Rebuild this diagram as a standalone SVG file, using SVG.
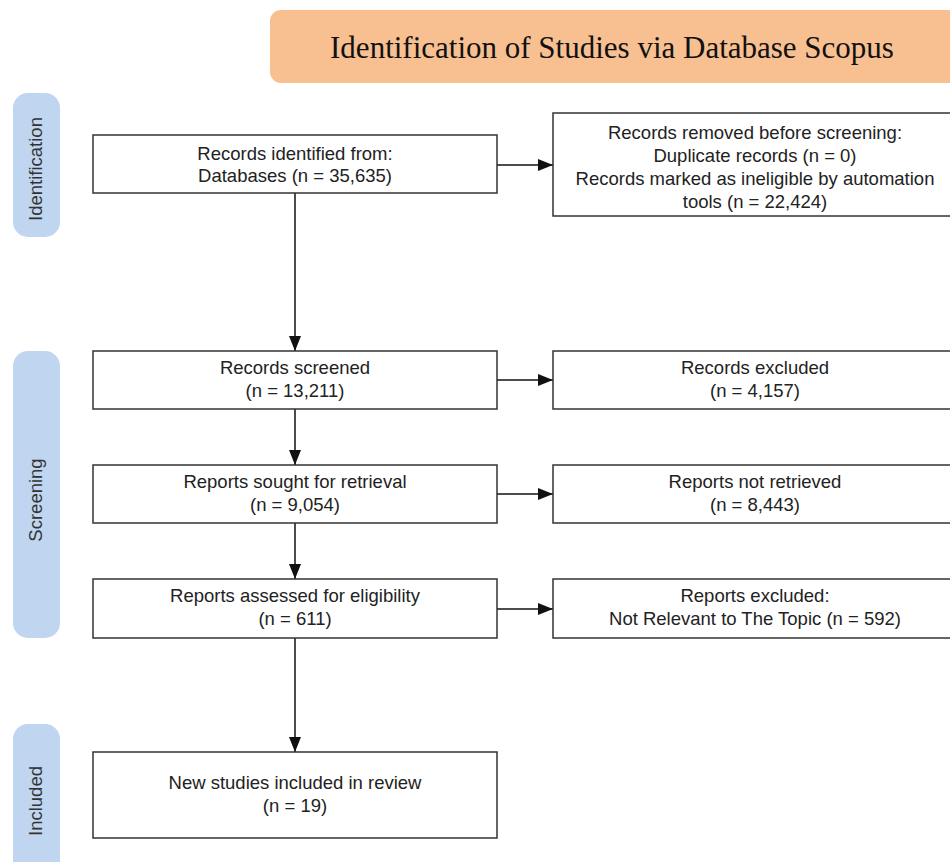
<svg xmlns="http://www.w3.org/2000/svg" width="950" height="862" viewBox="0 0 950 862">
<defs>
<style>
.box{fill:#fff;stroke:#333;stroke-width:1.5}
.pill{fill:#C0D5F0}
.t{font-family:"Liberation Sans",Arial,sans-serif;font-size:18.5px;fill:#222;text-anchor:middle}
.side{font-family:"Liberation Sans",Arial,sans-serif;font-size:18.5px;fill:#333;text-anchor:middle}
.ln{stroke:#111;stroke-width:1.5;fill:none;marker-end:url(#ah)}
</style>
<marker id="ah" viewBox="0 0 15 12" refX="15" refY="6" markerWidth="15" markerHeight="12" markerUnits="userSpaceOnUse" orient="auto">
<path d="M0,0 L15,6 L0,12 Z" fill="#111"/>
</marker>
</defs>
<rect width="950" height="862" fill="#fff"/>
<g id="title">
<rect x="270" y="10" width="700" height="73" rx="11" fill="#F8C091"/>
<text x="612" y="58" font-family="'Liberation Serif','Times New Roman',serif" font-size="31" fill="#111" text-anchor="middle">Identification of Studies via Database Scopus</text>
</g>
<g id="phase-identification">
<rect class="pill" x="13" y="93" width="47" height="144" rx="15"/>
<text class="side" transform="translate(42,169) rotate(-90)">Identification</text>
</g>
<g id="phase-screening">
<rect class="pill" x="13" y="351" width="47" height="287" rx="15"/>
<text class="side" transform="translate(42,500) rotate(-90)">Screening</text>
</g>
<g id="phase-included">
<rect class="pill" x="13" y="724" width="47" height="160" rx="15"/>
<text class="side" transform="translate(42,801) rotate(-90)">Included</text>
</g>
<g id="connectors">
<line class="ln" x1="295" y1="193" x2="295" y2="351"/>
<line class="ln" x1="295" y1="409" x2="295" y2="465"/>
<line class="ln" x1="295" y1="523" x2="295" y2="579"/>
<line class="ln" x1="295" y1="638" x2="295" y2="752"/>
<line class="ln" x1="497" y1="165" x2="553" y2="165"/>
<line class="ln" x1="497" y1="380" x2="553" y2="380"/>
<line class="ln" x1="497" y1="494" x2="553" y2="494"/>
<line class="ln" x1="497" y1="609" x2="553" y2="609"/>
</g>
<g id="records-identified">
<rect class="box" x="93" y="135" width="404" height="58"/>
<text class="t" x="295" y="160">Records identified from:</text>
<text class="t" x="295" y="182">Databases (n = 35,635)</text>
</g>
<g id="records-removed">
<rect class="box" x="553" y="113" width="404" height="103"/>
<text class="t" x="755" y="139">Records removed before screening:</text>
<text class="t" x="755" y="162">Duplicate records (n = 0)</text>
<text class="t" x="755" y="185">Records marked as ineligible by automation</text>
<text class="t" x="755" y="208">tools (n = 22,424)</text>
</g>
<g id="records-screened">
<rect class="box" x="93" y="351" width="404" height="58"/>
<text class="t" x="295" y="374">Records screened</text>
<text class="t" x="295" y="397">(n = 13,211)</text>
</g>
<g id="records-excluded">
<rect class="box" x="553" y="351" width="404" height="58"/>
<text class="t" x="755" y="374">Records excluded</text>
<text class="t" x="755" y="397">(n = 4,157)</text>
</g>
<g id="reports-sought">
<rect class="box" x="93" y="465" width="404" height="58"/>
<text class="t" x="295" y="488">Reports sought for retrieval</text>
<text class="t" x="295" y="511">(n = 9,054)</text>
</g>
<g id="reports-not-retrieved">
<rect class="box" x="553" y="465" width="404" height="58"/>
<text class="t" x="755" y="488">Reports not retrieved</text>
<text class="t" x="755" y="511">(n = 8,443)</text>
</g>
<g id="reports-assessed">
<rect class="box" x="93" y="579" width="404" height="59"/>
<text class="t" x="295" y="602">Reports assessed for eligibility</text>
<text class="t" x="295" y="625">(n = 611)</text>
</g>
<g id="reports-excluded">
<rect class="box" x="553" y="579" width="404" height="59"/>
<text class="t" x="755" y="602">Reports excluded:</text>
<text class="t" x="755" y="625">Not Relevant to The Topic (n = 592)</text>
</g>
<g id="included-studies">
<rect class="box" x="93" y="752" width="404" height="86"/>
<text class="t" x="295" y="789">New studies included in review</text>
<text class="t" x="295" y="812">(n = 19)</text>
</g>
</svg>
